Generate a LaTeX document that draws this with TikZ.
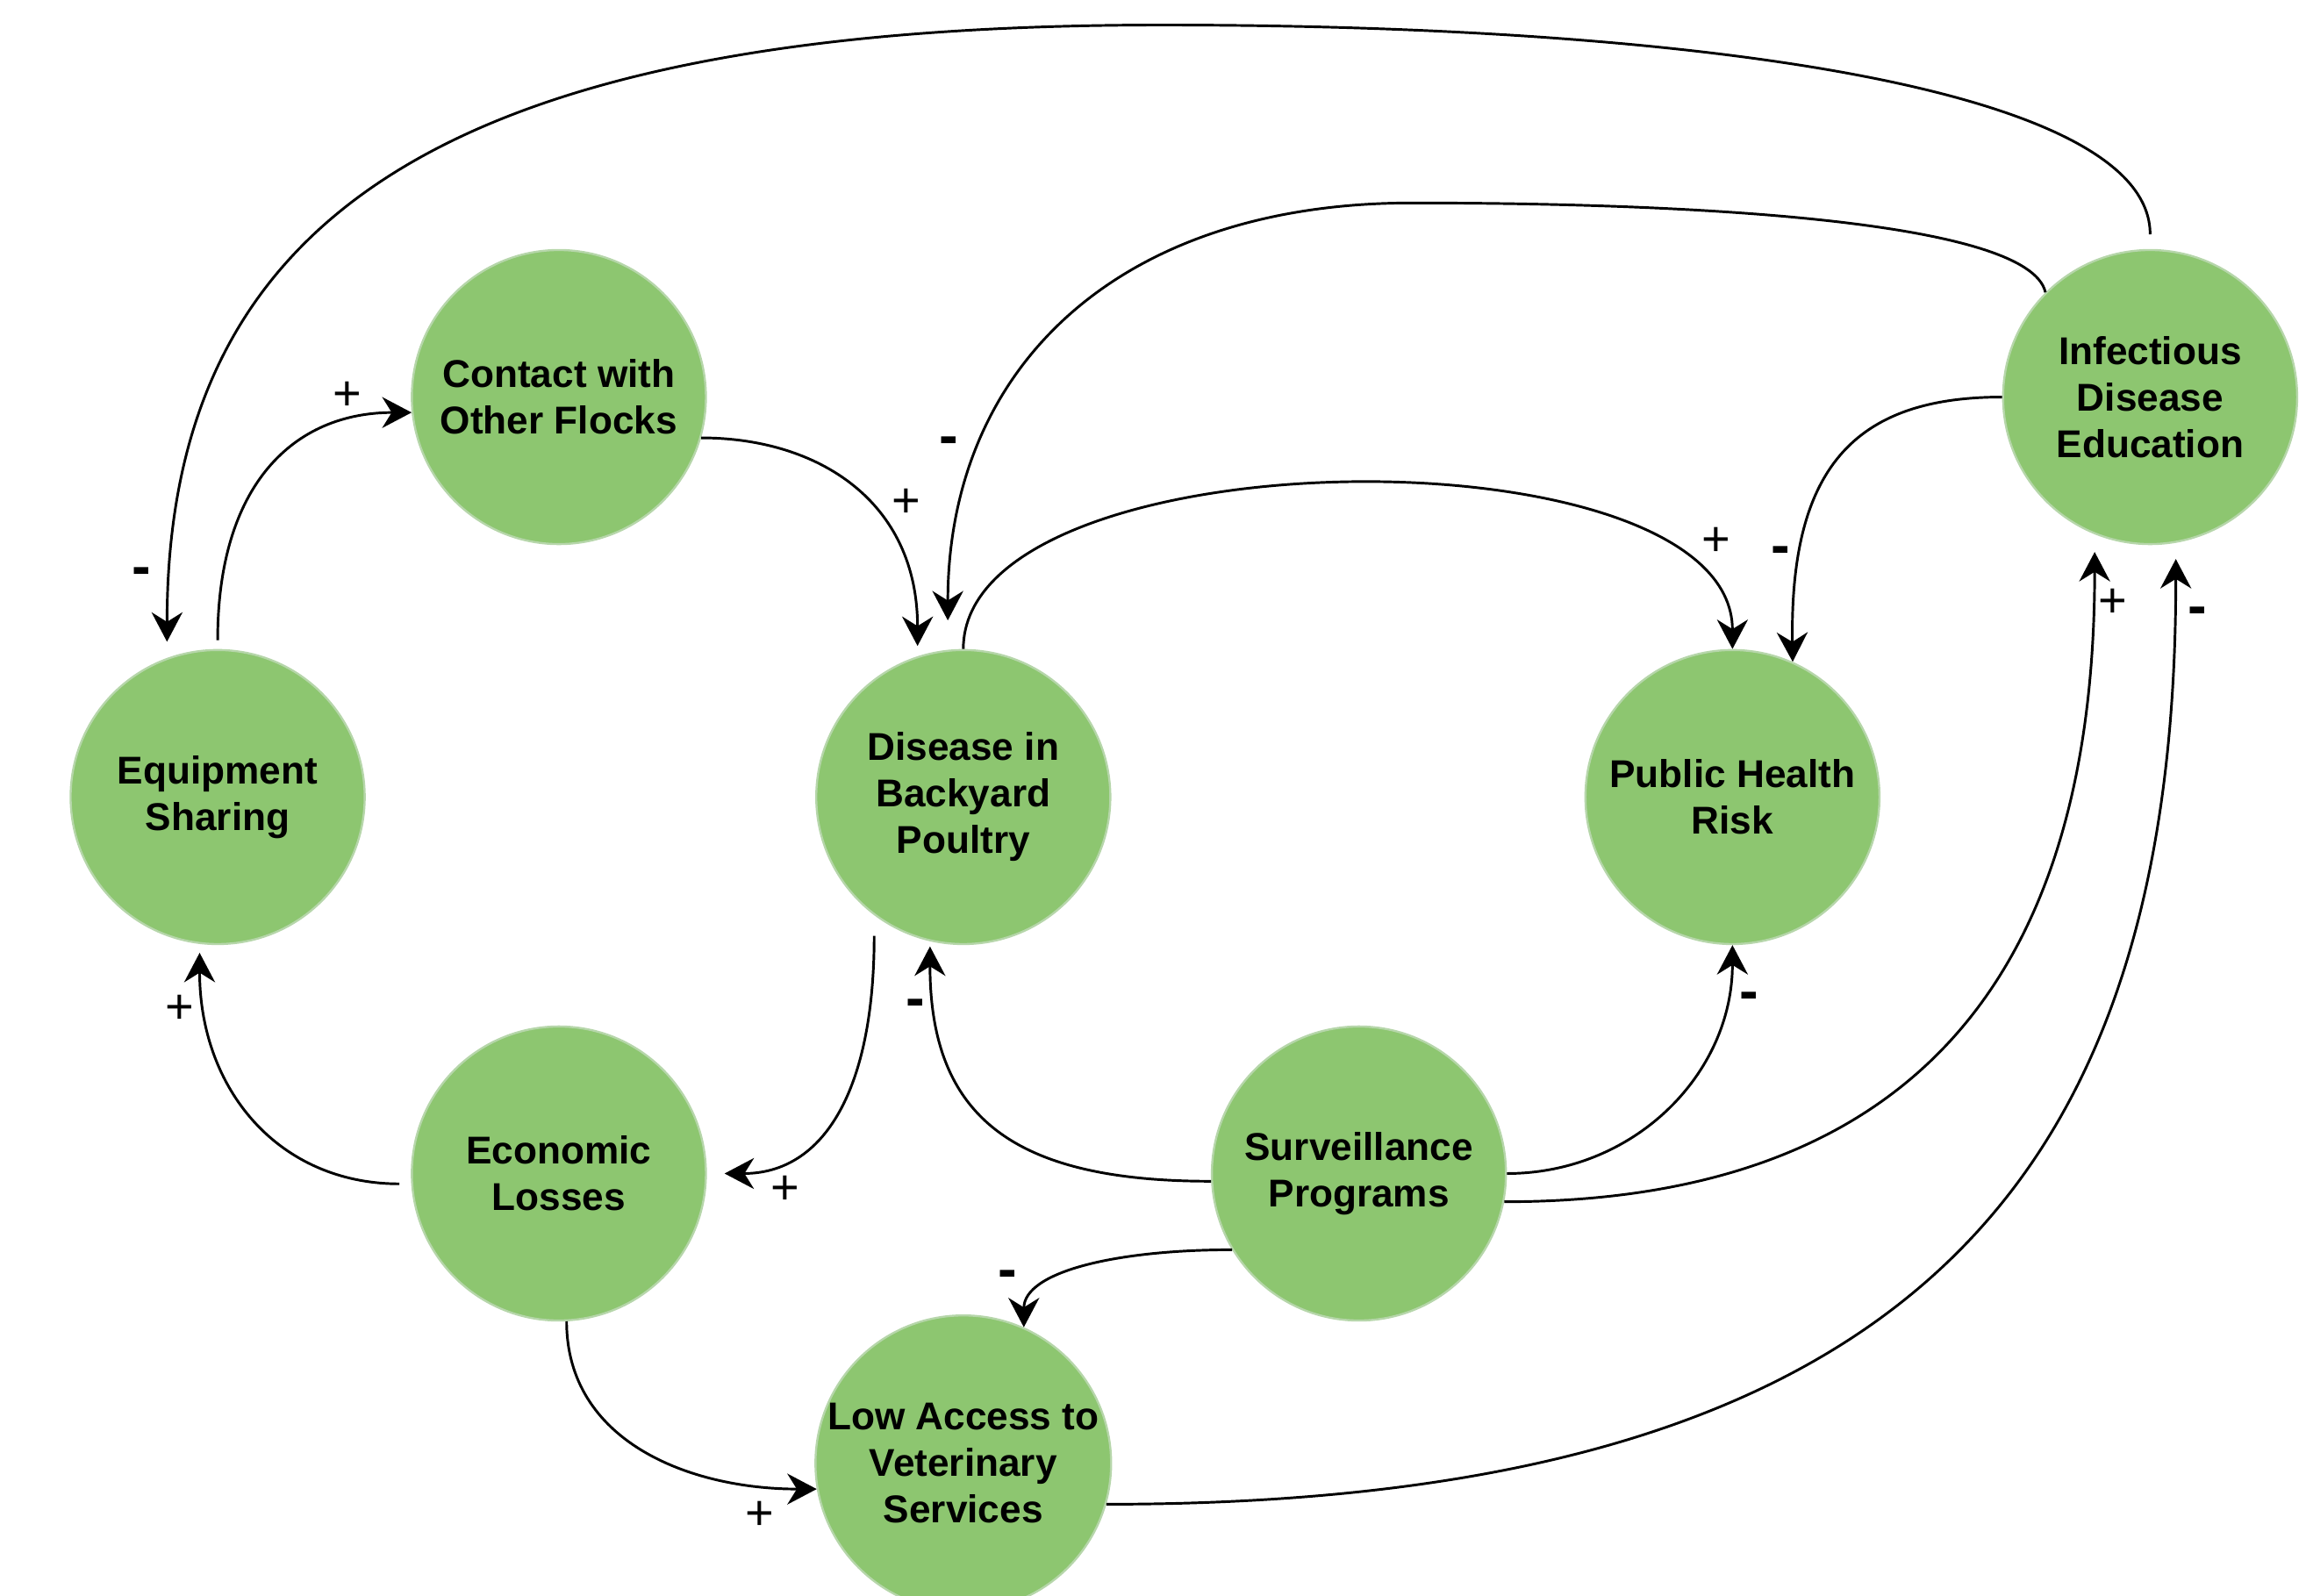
\documentclass[tikz,border=0pt]{standalone}
\usepackage{fontspec}
\setmainfont{Liberation Sans}
\usetikzlibrary{arrows.meta}

\definecolor{factorfill}{RGB}{141,198,112}
\definecolor{factorrim}{RGB}{182,214,170}

\begin{document}
\begin{tikzpicture}[%
x=0.02cm, y=0.02cm,
>={Stealth[length=4mm,width=4.2mm,inset=1.3mm]},
factor/.style={circle, fill=factorfill, draw=factorrim, line width=0.8pt,
  minimum size=4cm, inner sep=0pt, align=center,
  font=\bfseries\fontsize{15}{18}\selectfont},
link/.style={->, line width=1pt},
possign/.style={inner sep=0pt, font=\fontsize{19}{19}\selectfont},
negsign/.style={inner sep=0pt, font=\bfseries\fontsize{22}{22}\selectfont}
]
\useasboundingbox (0,0) rectangle (1568,-1085);

\node[factor] (contact) at (380,-270) {Contact with\\Other Flocks};
\node[factor] (equip) at (148,-542) {Equipment\\Sharing};
\node[factor] (disease) at (655,-542) {Disease in\\Backyard\\Poultry};
\node[factor] (health) at (1178,-542) {Public Health\\Risk};
\node[factor] (educ) at (1462,-270) {Infectious\\Disease\\Education};
\node[factor] (econ) at (380,-798) {Economic\\Losses};
\node[factor] (surv) at (924,-798) {Surveillance\\Programs};
\node[factor] (vet) at (655,-995) {Low Access to\\Veterinary\\Services};

% upper loop
\draw[link, shorten <=0.12cm] (equip.north) .. controls +(0,112) and +(-80,0) .. (contact.186)
  node[possign] (s1) at (236,-269) {+};
\draw[link, shorten >=0.14cm] (contact.-16) .. controls +(80,0) and +(0,105) .. (disease.108)
  node[possign] (s2) at (616,-342) {+};
\draw[link, shorten <=0.2cm, shorten >=0.22cm] (educ.north) .. controls +(0,110) and +(360,0) .. (790,-17)
  .. controls +(-490,0) and +(0,298) .. (equip.110)
  node[negsign] (s3) at (96.5,-392) {-};
\draw[link, shorten >=0.4cm] (educ.135) .. controls +(-11,49) and +(190,0) .. (960,-138)
  .. controls +(-200,0) and +(0,192) .. (disease.96)
  node[negsign] (s4) at (645,-303) {-};
\draw[link] (disease.north) .. controls +(0,147) and +(0,152) .. (health.north)
  node[possign] (s5) at (1167,-368.5) {+};
\draw[link] (educ.west) .. controls +(-102,0) and +(-2,130) .. (health.66)
  node[negsign] (s6) at (1211,-378) {-};

% lower loop
\draw[link, shorten <=0.28cm, shorten >=0.24cm] (disease.-127) .. controls +(0,-118) and +(80,0) .. (econ.east)
  node[possign] (s7) at (534,-809) {+};
\draw[link, shorten <=0.16cm, shorten >=0.12cm] (econ.184) .. controls +(-90,0) and +(0,-99) .. (equip.-97.5)
  node[possign] (s8) at (122.5,-686.5) {+};
\draw[link, shorten >=0.07cm] (surv.183) .. controls +(-134,0) and +(0,-120) .. (disease.-103)
  node[negsign] (s9) at (622.6,-685.6) {-};
\draw[link] (surv.east) .. controls +(86,0) and +(0,-88) .. (health.south)
  node[negsign] (s10) at (1189,-680.6) {-};
\draw[link, shorten >=0.24cm] (surv.-11) .. controls +(298,0) and +(0,-277) .. (educ.-112)
  node[possign] (s11) at (1436.5,-410) {+};
\draw[link] (surv.211) .. controls +(-78,0) and +(0,38) .. (vet.66)
  node[negsign] (s12) at (685,-870) {-};
\draw[link] (econ.-87) .. controls +(0,-82) and +(-86,0) .. (vet.190)
  node[possign] (s13) at (516.6,-1030.5) {+};
\draw[link, shorten >=0.22cm] (vet.-16) .. controls +(549,0) and +(0,-431) .. (educ.-80)
  node[negsign] (s14) at (1494,-419) {-};

\end{tikzpicture}
\end{document}
